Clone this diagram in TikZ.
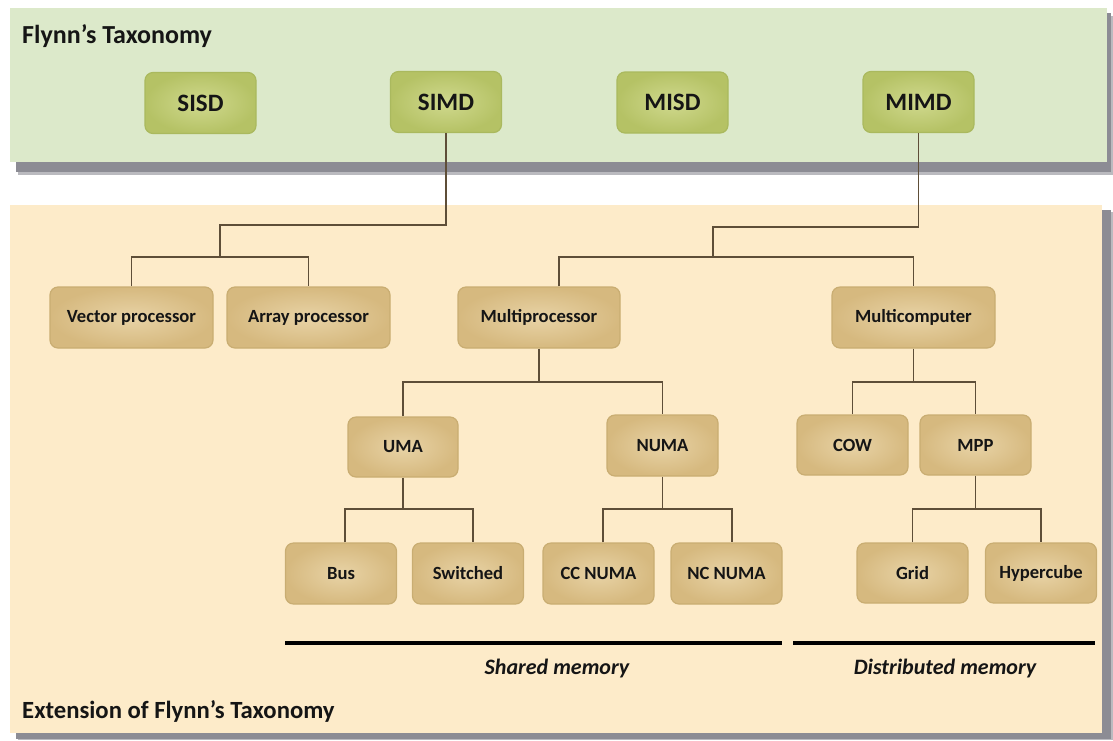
\documentclass[tikz,border=0pt]{standalone}
\usepackage{fontspec}
\setmainfont{Carlito}
\usetikzlibrary{calc}
\definecolor{greenpanel}{HTML}{DCE9CA}
\definecolor{beigepanel}{HTML}{FDEBC9}
\definecolor{gin}{HTML}{D0D98E}
\definecolor{gout}{HTML}{B5C265}
\definecolor{gedge}{HTML}{AAB95E}
\definecolor{bin}{HTML}{E8D3A6}
\definecolor{bout}{HTML}{D6B97F}
\definecolor{bedge}{HTML}{C9AD72}
\definecolor{conncol}{HTML}{5E4E38}
\definecolor{shadowcol}{HTML}{8C8C94}
\definecolor{txt}{HTML}{151515}
\tikzset{
  gbox/.style={rectangle, rounded corners=8pt, inner color=gin, outer color=gout, draw=gedge, line width=1.2pt,
    minimum width=111pt, minimum height=61pt, text=txt, font=\fontsize{25}{29}\selectfont\bfseries},
  bbox/.style={rectangle, rounded corners=8pt, inner color=bin, outer color=bout, draw=bedge, line width=1.2pt,
    minimum width=111pt, minimum height=61pt, text=txt, font=\fontsize{18.6}{22}\selectfont\bfseries},
  conn/.style={draw=conncol, line width=1.3pt},
  memline/.style={draw=black, line width=4pt},
  title/.style={anchor=west, text=txt, inner sep=0pt},
  memlabel/.style={text=txt, font=\fontsize{22}{26}\selectfont\bfseries\itshape},
}
\begin{document}
\begin{tikzpicture}[x=1pt,y=-1pt]
\useasboundingbox (0,0) rectangle (1113,740);
\fill[white] (0,0) rectangle (1113,740);
% panels with shadows
\fill[shadowcol!60] (18,16) rectangle (1113,175);
\fill[shadowcol] (16,13) rectangle (1111,172);
\fill[greenpanel] (10,8) rectangle (1107,162);
\fill[shadowcol!60] (18,212) rectangle (1113,740);
\fill[shadowcol] (16,210) rectangle (1111,739);
\fill[beigepanel] (10,205) rectangle (1102,733);

\node[title, font=\fontsize{26}{31}\selectfont\bfseries] (t1) at (22,36) {Flynn’s Taxonomy};
\node[title, font=\fontsize{24.7}{29}\selectfont\bfseries] (t2) at (22,711) {Extension of Flynn’s Taxonomy};

% junction coordinates
\coordinate (ja) at (220,225);
\coordinate (jb) at (0,257);
\coordinate (jc) at (713,227);
\coordinate (jd) at (0,382);
\coordinate (je) at (0,509);

% boxes
\node[gbox] (sisd) at (200.5,103) {SISD};
\node[gbox] (simd) at (446,102) {SIMD};
\node[gbox] (misd) at (672.5,102.5) {MISD};
\node[gbox] (mimd) at (918.5,102) {MIMD};

\draw[conn] (simd.south) |- (ja) -- (ja |- jb);

\node[bbox, minimum width=163pt] (vp) at (131.5,317.5) {Vector processor};
\node[bbox, minimum width=163pt] (ap) at (308.5,317.5) {Array processor};
\node[bbox, minimum width=162pt] (mp) at (539,317.5) {Multiprocessor};
\node[bbox, minimum width=163pt] (mc) at (913.5,317.5) {Multicomputer};
\node[bbox, minimum width=110pt, minimum height=60pt] (uma) at (403,447) {UMA};
\node[bbox] (numa) at (662.5,445.5) {NUMA};
\node[bbox, minimum height=60pt] (cow) at (852.5,445) {COW};
\node[bbox, minimum height=60pt] (mpp) at (975.5,445) {MPP};
\node[bbox] (bus) at (341,573.5) {Bus};
\node[bbox] (sw) at (468,573.5) {Switched};
\node[bbox] (ccnuma) at (598.5,573.5) {CC NUMA};
\node[bbox] (ncnuma) at (726.5,573.5) {NC NUMA};
\node[bbox, minimum height=60pt] (grid) at (912.5,573) {Grid};
\node[bbox, minimum height=60pt] (hyper) at (1041,573) {Hypercube};

% SIMD subtree
\draw[conn] (vp.north) -- (vp.north |- jb) -- (ap.north |- jb) -- (ap.north);
% MIMD subtree
\coordinate (mpn) at ($(mp.north)+(20,0)$);
\draw[conn] (mimd.south) |- (jc) -- (jc |- jb);
\draw[conn] (mpn) -- (mpn |- jb) -- (mc.north |- jb) -- (mc.north);
% Multiprocessor subtree
\draw[conn] (mp.south) -- (mp.south |- jd);
\draw[conn] (uma.north) -- (uma.north |- jd) -- (numa.north |- jd) -- (numa.north);
% Multicomputer subtree
\draw[conn] (mc.south) -- (mc.south |- jd);
\draw[conn] (cow.north) -- (cow.north |- jd) -- (mpp.north |- jd) -- (mpp.north);
% UMA subtree
\draw[conn] (uma.south) -- (uma.south |- je);
\draw[conn] ($(bus.north)+(4,0)$) -- ($(bus.north |- je)+(4,0)$) -- ($(sw.north |- je)+(5,0)$) -- ($(sw.north)+(5,0)$);
% NUMA subtree
\draw[conn] (numa.south) -- (numa.south |- je);
\draw[conn] ($(ccnuma.north)+(4.5,0)$) -- ($(ccnuma.north |- je)+(4.5,0)$) -- ($(ncnuma.north |- je)+(5.5,0)$) -- ($(ncnuma.north)+(5.5,0)$);
% MPP subtree
\draw[conn] (mpp.south) -- (mpp.south |- je);
\draw[conn] (grid.north) -- (grid.north |- je) -- (hyper.north |- je) -- (hyper.north);

% memory lines
\coordinate (s1) at (285,643);
\coordinate (s2) at (782,643);
\coordinate (d1) at (793,643);
\coordinate (d2) at (1095,643);
\draw[memline] (s1) -- (s2);
\draw[memline] (d1) -- (d2);
\node[memlabel] (shm) at (557,668) {Shared memory};
\node[memlabel] (dsm) at (945,668) {Distributed memory};
\end{tikzpicture}
\end{document}
